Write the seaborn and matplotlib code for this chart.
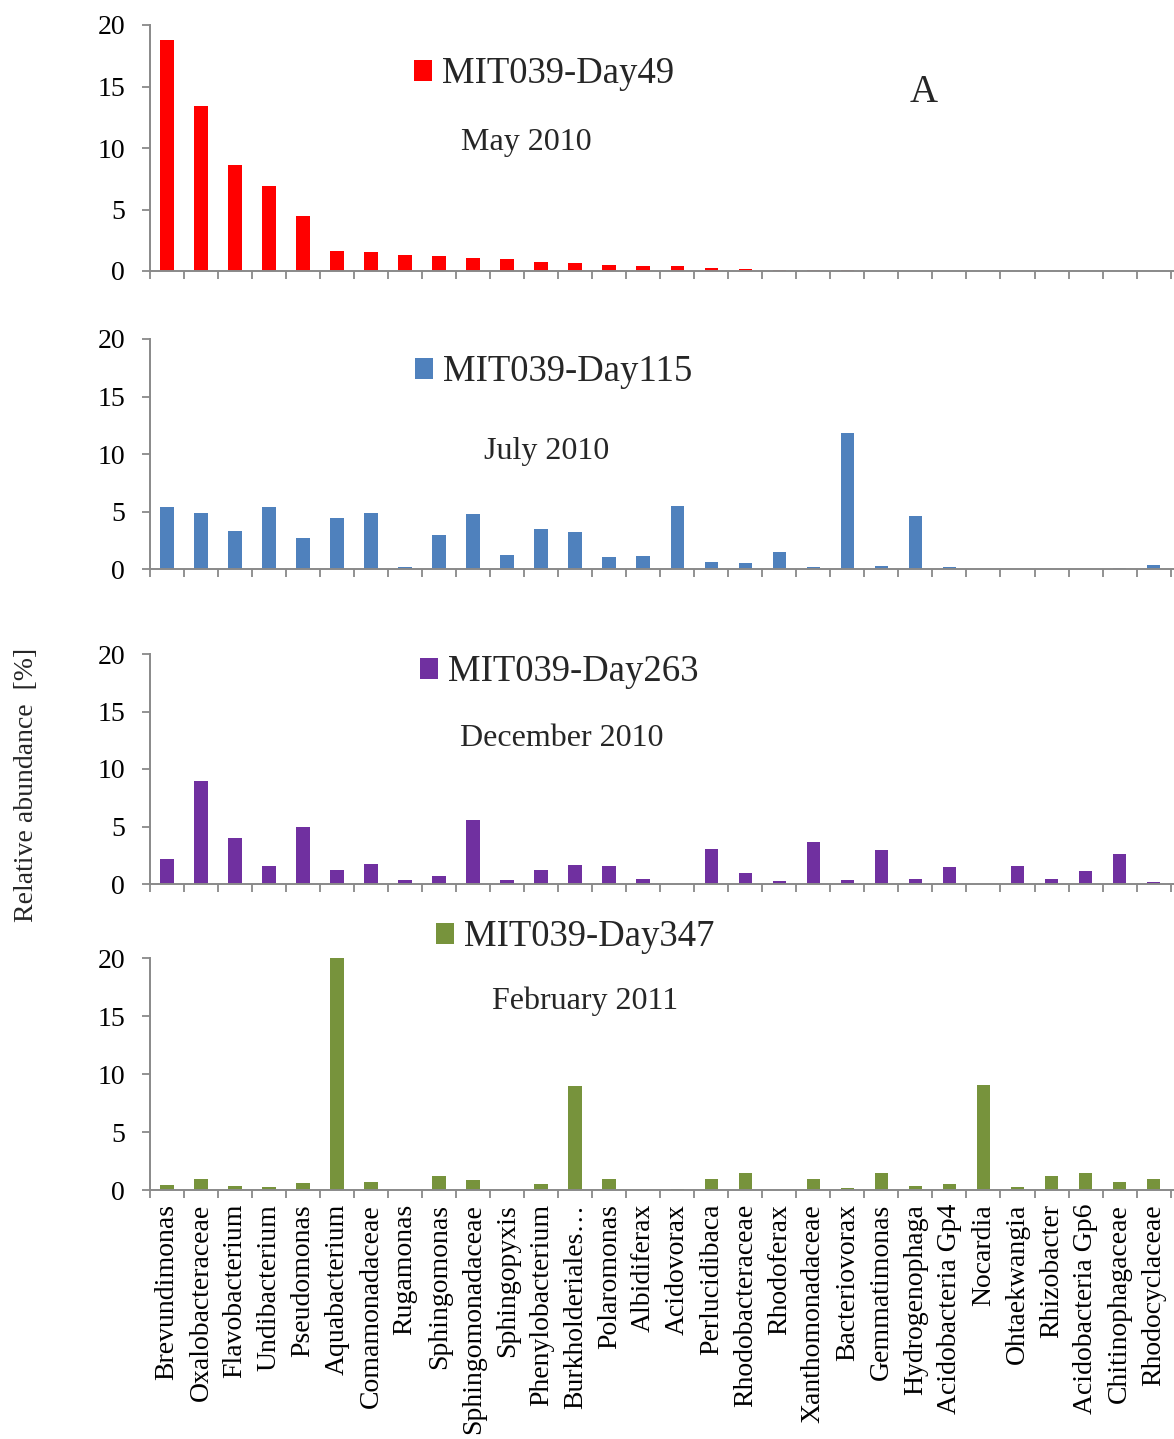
import numpy as np
import pandas as pd
import matplotlib
matplotlib.use("Agg")
import matplotlib.pyplot as plt
from matplotlib.patches import Patch
import seaborn as sns

categories = ["Brevundimonas", "Oxalobacteraceae", "Flavobacterium", "Undibacterium",
              "Pseudomonas", "Aquabacterium", "Comamonadaceae", "Rugamonas",
              "Sphingomonas", "Sphingomonadaceae", "Sphingopyxis", "Phenylobacterium",
              "Burkholderiales…", "Polaromonas", "Albidiferax", "Acidovorax",
              "Perlucidibaca", "Rhodobacteraceae", "Rhodoferax", "Xanthomonadaceae",
              "Bacteriovorax", "Gemmatimonas", "Hydrogenophaga", "Acidobacteria Gp4",
              "Nocardia", "Ohtaekwangia", "Rhizobacter", "Acidobacteria Gp6",
              "Chitinophagaceae", "Rhodocyclaceae"]

day49 = [18.8, 13.4, 8.6, 6.9, 4.5, 1.6, 1.55, 1.3, 1.25, 1.05, 0.95, 0.7, 0.65, 0.52,
         0.4, 0.4, 0.22, 0.15, 0.12, 0.1, 0.06, 0, 0, 0, 0, 0, 0, 0, 0, 0]
day115 = [5.35, 4.85, 3.3, 5.4, 2.7, 4.45, 4.9, 0.2, 3.0, 4.75, 1.25, 3.45, 3.25, 1.07,
          1.12, 5.5, 0.64, 0.5, 1.45, 0.14, 11.8, 0.25, 4.6, 0.15, 0, 0, 0, 0, 0.1, 0.35]
day263 = [2.2, 9.0, 4.0, 1.55, 5.0, 1.2, 1.75, 0.32, 0.7, 5.6, 0.35, 1.2, 1.62, 1.53,
          0.43, 0, 3.04, 0.93, 0.3, 3.68, 0.35, 2.92, 0.4, 1.5, 0, 1.6, 0.43, 1.13, 2.6, 0.15]
day347 = [0.46, 0.92, 0.32, 0.23, 0.6, 20.0, 0.69, 0.03, 1.2, 0.89, 0.03, 0.52, 9.0, 0.97,
          0, 0.06, 0.97, 1.49, 0, 0.95, 0.2, 1.46, 0.32, 0.52, 9.08, 0.26, 1.2, 1.43, 0.66, 0.97]

series_names = ["MIT039-Day49", "MIT039-Day115", "MIT039-Day263", "MIT039-Day347"]
dates = ["May 2010", "July 2010", "December 2010", "February 2011"]
colors = ["#FF0000", "#4F81BD", "#7030A0", "#77933C"]
yticks = [0, 5, 10, 15, 20]

sns.set_theme(style="white")
plt.rcParams["font.family"] = ["Liberation Serif", "DejaVu Serif"]

W, H = 1174, 1439
fig = plt.figure(figsize=(W / 100, H / 100), dpi=100)

def fx(px):
    return px / W

def fy(py):
    return 1 - py / H

# (zero line y, top line y) in pixels
panel_px = [(271, 25), (569, 339), (884, 654), (1190, 958)]
legend_px = [(414, 74), (415, 372), (420, 672), (436, 937)]
date_px = [(526, 150), (547, 459), (562, 746), (585, 1009)]
axis_gray = "#898989"

data = [day49, day115, day263, day347]
left_px, right_px = 150, 1174

for k, (vals, name, date, col) in enumerate(zip(data, series_names, dates, colors)):
    y0, y1 = panel_px[k]
    ax = fig.add_axes([fx(left_px), fy(y0), fx(right_px - left_px), (y0 - y1) / H])
    df = pd.DataFrame({"taxon": categories, "abundance": vals})
    sns.barplot(data=df, x="taxon", y="abundance", ax=ax, color=col,
                saturation=1, width=0.4, linewidth=0)
    ax.set_xlim(-0.5, 29.6)
    ax.set_ylim(0, 20)
    ax.set_yticks(yticks)
    ax.set_yticklabels([str(t) for t in yticks])
    ax.set_xlabel("")
    ax.set_ylabel("")
    for s in ["top", "right"]:
        ax.spines[s].set_visible(False)
    for s in ["left", "bottom"]:
        ax.spines[s].set_color(axis_gray)
        ax.spines[s].set_linewidth(1.4)
    ax.tick_params(axis="y", which="major", direction="out", length=6, width=1.3,
                   color=axis_gray, labelsize=20, pad=12, left=True, labelcolor="black")
    ax.set_xticks(np.arange(-0.5, 30, 1.0), minor=True)
    ax.tick_params(axis="x", which="minor", direction="out", length=6, width=1.3,
                   color=axis_gray, bottom=True)
    if k == 3:
        ax.set_xticks(range(len(categories)))
        ax.set_xticklabels(categories, rotation=90, fontsize=20, ha="center", va="top")
        ax.tick_params(axis="x", which="major", length=0, pad=10, labelcolor="black")
    else:
        ax.set_xticks(range(len(categories)))
        ax.tick_params(axis="x", which="major", length=0, labelbottom=False)
    ax.set_facecolor("none")
    ax.grid(False)

    lx, ly = legend_px[k]
    ax.legend(handles=[Patch(facecolor=col, edgecolor="none")], labels=[name],
              loc="center left", bbox_to_anchor=(fx(lx), fy(ly)),
              bbox_transform=fig.transFigure, frameon=False, fontsize=26.5,
              handlelength=0.5, handleheight=0.5, handletextpad=0.25,
              borderpad=0, borderaxespad=0)
    dx, dy = date_px[k]
    fig.text(fx(dx), fy(dy), date, ha="center", va="baseline", fontsize=23)

fig.text(fx(924), fy(102), "A", ha="center", va="baseline", fontsize=28)
fig.text(fx(27), fy(785), "Relative abundance  [%]", rotation=90,
         ha="center", va="center", fontsize=20)

fig.savefig("out.png", dpi=100, facecolor="white")
